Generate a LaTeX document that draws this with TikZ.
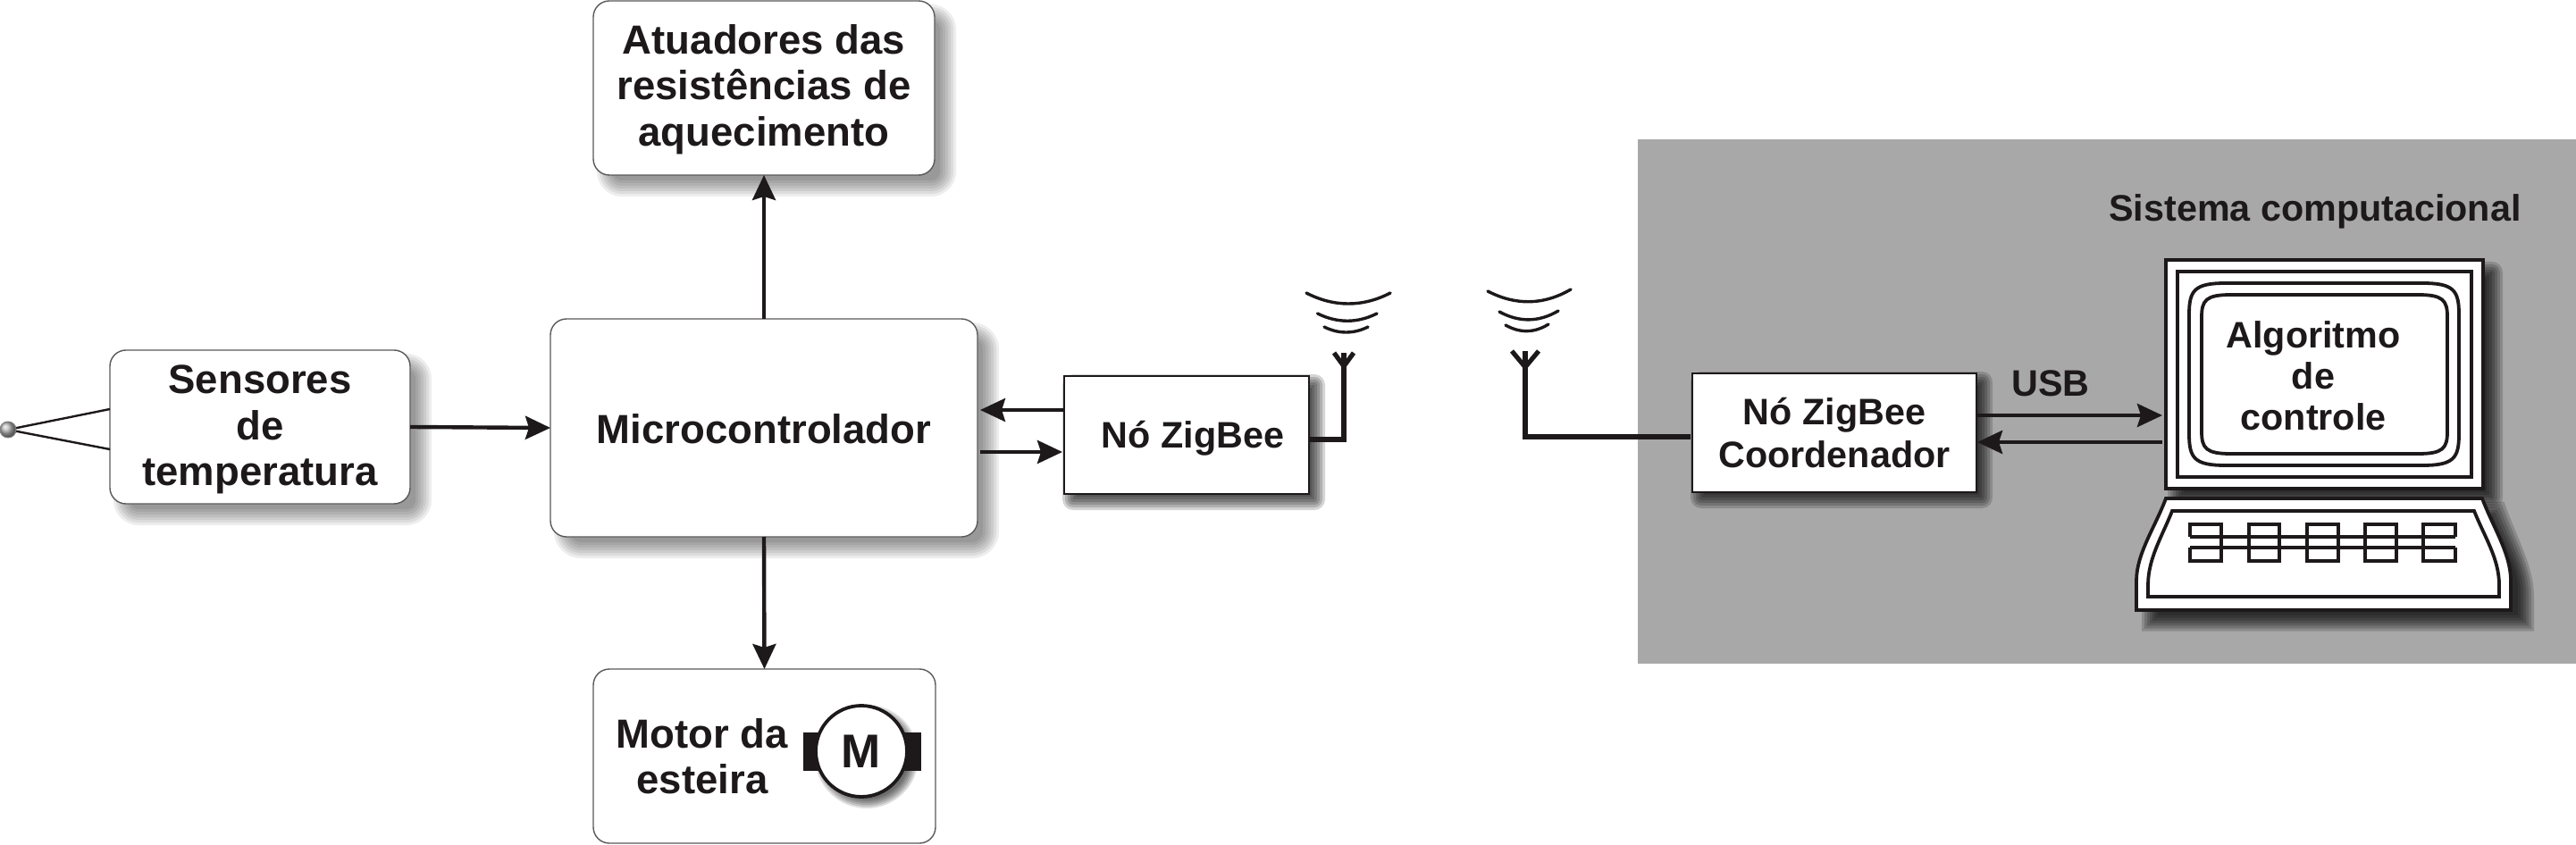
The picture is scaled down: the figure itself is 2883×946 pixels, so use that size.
\documentclass[tikz,border=0pt]{standalone}
\usepackage{fontspec}
\setmainfont{Liberation Sans}
\usetikzlibrary{arrows.meta,calc,shadings}
\definecolor{ink}{HTML}{1D191A}
\definecolor{panel}{HTML}{A8A8A8}
\newcommand{\boxshadow}[7]{% x1 y1 x2 y2 offset radius opacity
  \foreach \k in {-8,-5,-2,1,4,7,10}{
    \pgfmathsetmacro{\rr}{max(#6+\k,0.5)*0.5}
    \fill[black,opacity=#7,rounded corners=\rr pt]
      ({#1+#5-(\k)},{#2+#5-(\k)}) rectangle ({#3+#5+(\k)},{#4+#5+(\k)});
  }}
\newcommand{\kbdouter}{(2424,558) -- (2778,558) .. controls (2790,590) and (2810,620) .. (2810,650) -- (2810,683) -- (2391,683) -- (2391,650) .. controls (2391,620) and (2412,590) .. (2424,558) -- cycle}
\tikzset{
  x=0.5pt,y=-0.5pt,
  every node/.style={text=ink},
  roundbox/.style={draw=black!65,line width=0.7pt,fill=white,rounded corners=9pt,outer sep=0pt,inner sep=0pt,align=center},
  sharpbox/.style={draw=ink,line width=1.2pt,fill=white,outer sep=0pt,inner sep=0pt,align=center},
  bigtext/.style={font=\fontsize{22.75}{25.85}\selectfont\bfseries},
  midtext/.style={font=\fontsize{20.65}{24}\selectfont\bfseries},
  free/.style={inner sep=0pt,outer sep=0pt,align=center},
  conn/.style={draw=ink,line width=2.2pt,-{Stealth[length=14pt,width=13pt,inset=2pt]}},
  aerial/.style={draw=ink,line width=3pt,miter limit=10},
  fork/.style={draw=ink,line width=2.6pt},
  wave/.style={draw=ink,line width=1.7pt,line cap=round},
  mon/.style={draw=ink,line width=1.9pt},
}
\begin{document}
\begin{tikzpicture}
\useasboundingbox (0,0) rectangle (2883,946);
% grey panel
\fill[panel] (1833,156) rectangle (2883,743);
% shadows
\boxshadow{123}{392}{459}{564}{14}{18}{0.07}
\boxshadow{616}{357}{1094}{601}{14}{20}{0.07}
\boxshadow{664}{1}{1046}{196}{14}{18}{0.07}
\boxshadow{1191}{421}{1465}{553}{8}{2}{0.17}
\boxshadow{1894}{418}{2212}{551}{8}{2}{0.17}
\boxshadow{2424}{291}{2779}{547}{12}{2}{0.17}
\foreach \k in {-8,-5,-2,1,4,7,10}{
  \pgfmathsetmacro{\sx}{1+2*\k/419}
  \pgfmathsetmacro{\sy}{1+2*\k/125}
  \fill[black,opacity=0.17,shift={(2616.5,634)},xscale=\sx,yscale=\sy,shift={(-2600.5,-620.5)}] \kbdouter;
}
% boxes
\node[roundbox,bigtext,minimum width=168pt,minimum height=86pt] (sens) at (291,478) {\rule{0pt}{19pt}Sensores\\de\\temperatura};
\node[roundbox,bigtext,minimum width=239pt,minimum height=122pt,text height=17pt,text depth=0pt] (micro) at (855,479) {Microcontrolador};
\node[roundbox,bigtext,minimum width=191pt,minimum height=97.5pt] (atua) at (855,98.5) {\rule{0pt}{18pt}Atuadores das\\resistências de\\aquecimento};
\node[roundbox,minimum width=191.5pt,minimum height=97.5pt] (motor) at (855.5,846.5) {};
\node[sharpbox,midtext,minimum width=137pt,minimum height=66pt] (no) at (1328,487) {\rule{0pt}{19pt}\hspace*{7pt}Nó ZigBee};
\node[sharpbox,midtext,minimum width=159pt,minimum height=66.5pt] (coord) at (2053,484.5) {Nó ZigBee\\Coordenador};
% motor symbol
\node[free,bigtext,anchor=base] (motortxta) at (786,837) {Motor da};
\node[free,bigtext,anchor=base] (motortxtb) at (786,888) {esteira};
\foreach \k in {-4,-2,0,2,4,6}{
  \fill[black,opacity=0.13] (970,847) circle ({52+\k});
}
\fill[ink] (899,820) rectangle (1031,863);
\node[circle,draw=ink,line width=1.9pt,fill=white,minimum size=51pt,inner sep=0pt,outer sep=0pt,font=\fontsize{26.5}{28}\selectfont\bfseries] (msym) at (964,841) {M};
% thermocouple
\coordinate (tipc) at (9,481);
\draw[draw=ink,line width=1.2pt] (tipc) -- ($(sens.west)+(0,-20)$);
\draw[draw=ink,line width=1.2pt] (tipc) -- ($(sens.west)+(0,25)$);
\node[circle,draw=black!50,line width=0.5pt,ball color=black!30,minimum size=9pt,inner sep=0pt,outer sep=0pt] (tip) at (tipc) {};
% connectors
\draw[conn] (sens.east) -- (micro.west);
\draw[conn] (micro.north) -- (atua.south);
\draw[conn] (micro.south) -- (motor.north);
\draw[conn] ($(no.west)+(0,-28)$) -- ($(micro.east)+(3,-20)$);
\draw[conn] ($(micro.east)+(3,27)$) -- ($(no.west)+(-2,19)$);
% antennas
\coordinate (ant1) at (1504,395);
\coordinate (ant2) at (1707,393);
\draw[aerial] ($(no.east)+(0,5)$) -| (ant1);
\draw[fork,line join=miter] ($(ant1)+(-11,0)$) -- ($(ant1)+(0,15)$) -- ($(ant1)+(11,0)$);
\draw[aerial] ($(coord.west)+(-2,4.5)$) -| (ant2);
\draw[fork,line join=miter] ($(ant2)+(-15,0)$) -- ($(ant2)+(0,18)$) -- ($(ant2)+(15,0)$);
\draw[wave] (1462,328) .. controls (1493,344) and (1525,344) .. (1556,328);
\draw[wave] (1474.5,351) .. controls (1497,362) and (1519,362) .. (1541,351);
\draw[wave] (1482,366) .. controls (1498,374) and (1515,374) .. (1531,366);
\draw[wave] (1665,326) .. controls (1696,342) and (1727,342) .. (1758,324);
\draw[wave] (1678,349) .. controls (1700,361) and (1722,361) .. (1744,348);
\draw[wave] (1685,364) .. controls (1701,373) and (1717,373) .. (1733,363);
% computer
\node[fill=white,draw=ink,line width=1.9pt,outer sep=0pt,inner sep=0pt,minimum width=177.5pt,minimum height=128pt] (screen) at (2601.5,419) {};
\draw[mon] (2437,304) rectangle (2766,534);
\draw[mon] (2450,352) .. controls (2450,325) and (2456,317) .. (2491,317) -- (2711,317) .. controls (2746,317) and (2752,325) .. (2752,352) -- (2752,486) .. controls (2752,513) and (2746,521) .. (2711,521) -- (2491,521) .. controls (2456,521) and (2450,513) .. (2450,486) -- cycle;
\draw[mon] (2464,355) .. controls (2464,336) and (2469,330) .. (2497,330) -- (2706,330) .. controls (2734,330) and (2739,336) .. (2739,355) -- (2739,483) .. controls (2739,502) and (2734,508) .. (2706,508) -- (2497,508) .. controls (2469,508) and (2464,502) .. (2464,483) -- cycle;
\node[free,font=\fontsize{20.65}{23}\selectfont\bfseries] (algo) at (2589,421) {Algoritmo\\de\\controle};
\draw[mon,fill=white] \kbdouter;
\draw[mon] (2431,572) -- (2769,572) .. controls (2780,600) and (2797,625) .. (2797,655) -- (2797,668) -- (2404,668) -- (2404,655) .. controls (2404,625) and (2420,600) .. (2431,572) -- cycle;
\draw[mon] (2451,601) -- (2451,587) -- (2486,587) -- (2486,628) -- (2451,628) -- (2451,613);
\draw[mon] (2517,587) rectangle (2551,628);
\draw[mon] (2582,587) rectangle (2617,628);
\draw[mon] (2647,587) rectangle (2682,628);
\draw[mon] (2748,601) -- (2748,587) -- (2712,587) -- (2712,628) -- (2748,628) -- (2748,613);
\draw[mon] (2451,601) -- (2748,601);
\draw[mon] (2451,613) -- (2748,613);
% USB
\draw[conn] ($(coord.east)+(-1,-19.5)$) -- ($(screen.west)+(-4,46)$);
\draw[conn] ($(screen.west)+(-4,76)$) -- ($(coord.east)+(1,10.5)$);
\node[free,midtext,anchor=base] (usb) at (2295,443) {USB};
\node[free,midtext,anchor=base] (sis) at (2591,248) {Sistema computacional};
\end{tikzpicture}
\end{document}
